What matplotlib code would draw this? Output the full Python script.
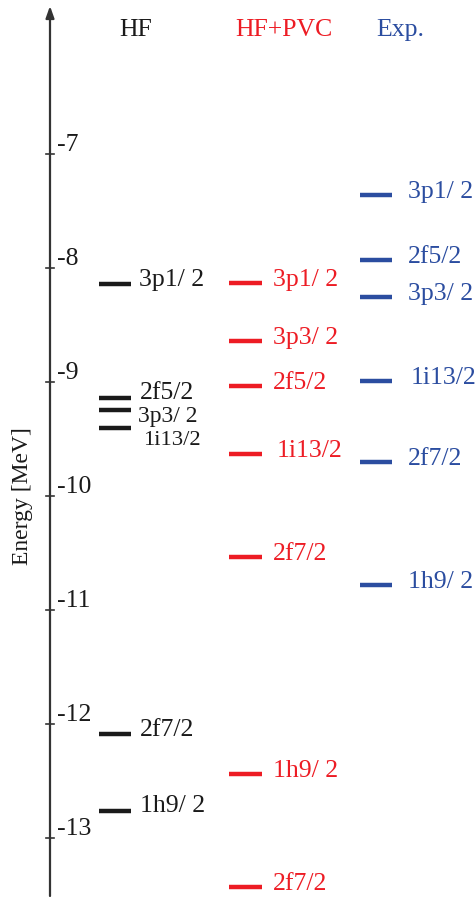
import matplotlib
matplotlib.use("Agg")
import matplotlib.pyplot as plt

# ---- data (energies in MeV) ----
columns = ["HF", "HF+PVC", "Exp."]
hf_labels = ["3p1/ 2", "2f5/2", "3p3/ 2", "1i13/2", "2f7/2", "1h9/ 2"]
hf_energy = [-8.145, -9.14, -9.25, -9.40, -12.086, -12.76]
pvc_labels = ["3p1/ 2", "3p3/ 2", "2f5/2", "1i13/2", "2f7/2", "1h9/ 2", "2f7/2"]
pvc_energy = [-8.136, -8.639, -9.039, -9.634, -10.537, -12.436, -13.43]
exp_labels = ["3p1/ 2", "2f5/2", "3p3/ 2", "1i13/2", "2f7/2", "1h9/ 2"]
exp_energy = [-7.362, -7.932, -8.253, -8.995, -9.705, -10.78]
tick_values = [-7, -8, -9, -10, -11, -12, -13]
ylabel = "Energy [MeV]"

# ---- style ----
W, H, DPI = 477, 897, 100
plt.rcParams["font.family"] = ["Liberation Serif", "DejaVu Serif"]
RED = "#ED1C24"
BLUE = "#2B4DA0"
BLACK = "#1a1a1a"
AX = "#333333"
FS = 18.5

fig = plt.figure(figsize=(W / DPI, H / DPI), dpi=DPI)
ax = fig.add_axes([0, 0, 1, 1])
ppm = 114.1  # pixels per MeV
e_top = -7 + 153.7 / ppm
e_bot = -7 - (H - 153.7) / ppm
ax.set_xlim(0, W)
ax.set_ylim(e_bot, e_top)
ax.axis("off")

def px(p):
    return p / ppm

# energy axis with arrow
ax.annotate("", xy=(50, e_top - px(6)), xytext=(50, e_top - px(896)),
            arrowprops=dict(arrowstyle="-|>,head_length=0.7,head_width=0.25",
                            color=AX, lw=1.6, shrinkA=0, shrinkB=0))
for t in tick_values:
    ax.plot([46, 54], [t, t], color=AX, lw=1.2)
    ax.text(57, t + px(9), f"-{abs(t)}", ha="left", va="center",
            fontsize=FS, color=BLACK)
ax.text(23, -10 + px(0), ylabel, rotation=90, ha="center", va="center",
        fontsize=17, color=BLACK)

# column headers
ax.text(136, e_top - px(30), columns[0], ha="center", va="center", fontsize=FS, color=BLACK)
ax.text(284, e_top - px(30), columns[1], ha="center", va="center", fontsize=FS, color=RED)
ax.text(400, e_top - px(30), columns[2], ha="center", va="center", fontsize=FS, color=BLUE)

LW = 3.2
# HF levels (label shift in px, upward positive)
hf_label_off = [4, 4.7, -6.4, -13, 4, 5]
hf_label_x = [139, 140, 138, 143, 140, 140]
hf_fs = [FS, FS, 17, 16.2, FS, FS]
for e, lab, off, lx, fs in zip(hf_energy, hf_labels, hf_label_off, hf_label_x, hf_fs):
    ax.plot([99, 131], [e, e], color=BLACK, lw=LW, solid_capstyle="butt")
    ax.text(lx, e + px(off), lab, ha="left", va="center", fontsize=fs, color=BLACK)

# HF+PVC levels
for e, lab in zip(pvc_energy, pvc_labels):
    ax.plot([229, 262], [e, e], color=RED, lw=LW, solid_capstyle="butt")
    lx = 277 if lab == "1i13/2" else 273
    ax.text(lx, e + px(3), lab, ha="left", va="center", fontsize=FS, color=RED)

# Exp levels
for e, lab in zip(exp_energy, exp_labels):
    ax.plot([360, 392], [e, e], color=BLUE, lw=LW, solid_capstyle="butt")
    lx = 411 if lab == "1i13/2" else 408
    ax.text(lx, e + px(3), lab, ha="left", va="center", fontsize=FS, color=BLUE)

fig.savefig("out.png", dpi=DPI)
